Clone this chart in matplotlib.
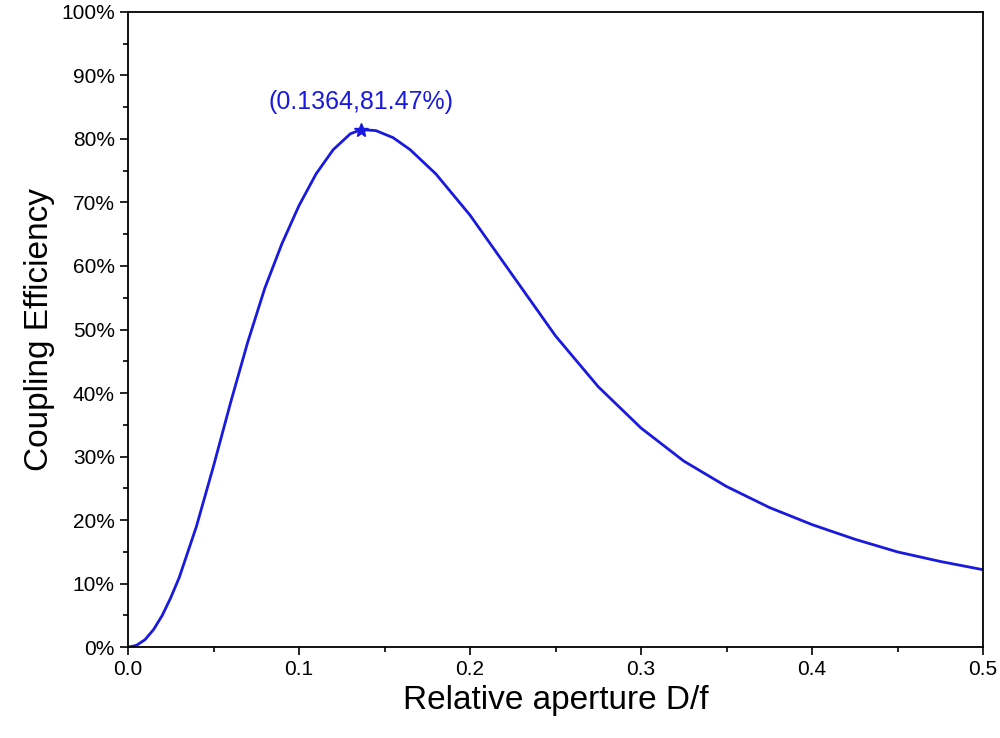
import matplotlib
matplotlib.use("Agg")
import matplotlib.pyplot as plt
from matplotlib.ticker import MultipleLocator, FuncFormatter

plt.rcParams["font.family"] = "Liberation Sans"

x = [0.0, 0.005, 0.01, 0.015, 0.02, 0.025, 0.03, 0.04, 0.05, 0.06, 0.07, 0.08, 0.09, 0.1, 0.11, 0.12, 0.13, 0.1364,
     0.145, 0.155, 0.165, 0.18, 0.2, 0.225, 0.25, 0.275, 0.3, 0.325, 0.35, 0.375, 0.4, 0.425, 0.45, 0.475, 0.5]
y = [0.0, 0.3, 1.2, 2.8, 5.0, 7.8, 11.0, 19.0, 28.5, 38.5, 48.0, 56.5, 63.5, 69.5, 74.5, 78.3, 80.8, 81.47,
     81.3, 80.2, 78.3, 74.5, 68.0, 58.5, 49.0, 41.0, 34.5, 29.3, 25.3, 22.0, 19.3, 17.0, 15.0, 13.5, 12.2]
peak_x, peak_y = 0.1364, 81.47

fig = plt.figure(figsize=(10, 7.38), dpi=100)
ax = fig.add_axes([0.128, 0.123, 0.855, 0.861])
ax.plot(x, y, color="#1a1adf", lw=2)
ax.plot([peak_x], [peak_y], marker="*", color="#1a1adf", ms=10)
ax.text(peak_x, peak_y + 2.5, "(0.1364,81.47%)", color="#1a1adf", fontsize=18, ha="center", va="bottom")
ax.set_xlim(0, 0.5)
ax.set_ylim(0, 100)
ax.xaxis.set_major_locator(MultipleLocator(0.1))
ax.xaxis.set_minor_locator(MultipleLocator(0.05))
ax.yaxis.set_major_locator(MultipleLocator(10))
ax.yaxis.set_minor_locator(MultipleLocator(5))
ax.yaxis.set_major_formatter(FuncFormatter(lambda v, p: f"{v:.0f}%"))
ax.xaxis.set_major_formatter(FuncFormatter(lambda v, p: f"{v:.1f}"))
ax.tick_params(which="major", length=6, width=1.2, labelsize=15)
ax.tick_params(which="minor", length=3.5, width=1.2)
for s in ax.spines.values():
    s.set_linewidth(1.3)
ax.set_xlabel("Relative aperture D/f", fontsize=24)
ax.set_ylabel("Coupling Efficiency", fontsize=24)
fig.savefig("out.png", dpi=100)
